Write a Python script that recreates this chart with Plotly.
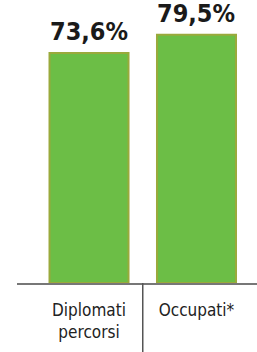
import plotly.graph_objects as go

categories = ["Diplomati<br>percorsi", "Occupati*"]
values = [73.6, 79.5]
value_labels = ["73,6%", "79,5%"]

xpos = list(range(len(categories)))

fig = go.Figure()
fig.add_trace(go.Bar(
    x=xpos, y=values, width=0.735,
    marker=dict(color="#6CBE46", line=dict(color="#9AAA3C", width=2)),
    hoverinfo="skip",
))

for x, v, t in zip(xpos, values, value_labels):
    fig.add_annotation(x=x, y=v, text=t, showarrow=False, yanchor="bottom", yshift=5,
                       font=dict(family="DejaVu Sans Condensed", size=25, color="#1a1a1a", weight="bold"))

fig.add_shape(type="line", xref="x", yref="paper", x0=0.5, x1=0.5, y0=0, y1=-0.3,
              line=dict(color="#555555", width=1.5))

fig.update_layout(
    width=257, height=352,
    margin=dict(l=17, r=0, t=0, b=69),
    paper_bgcolor="white", plot_bgcolor="white",
    showlegend=False,
    xaxis=dict(range=[-0.670, 1.563], tickvals=xpos, ticktext=categories,
               showline=True, linecolor="#777777", linewidth=1.5, ticks="",
               showgrid=False, zeroline=False, ticklabelstandoff=11,
               tickfont=dict(family="DejaVu Sans Condensed", size=17, color="#222222")),
    yaxis=dict(range=[0, 90.6], visible=False, showgrid=False),
)

fig.write_html("out.html", config={"displayModeBar": False},
               post_script="document.body.style.margin='0';document.body.style.overflow='hidden';")
